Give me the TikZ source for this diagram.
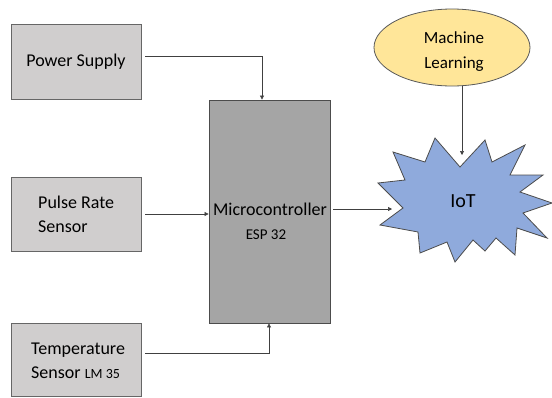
\documentclass[tikz,border=0pt]{standalone}
\usepackage{fontspec}
\setmainfont{Carlito}
\usetikzlibrary{arrows.meta,shapes.geometric}
\begin{document}
\begin{tikzpicture}[x=1pt,y=-1pt,
  inbox/.style={draw=black!60,line width=0.8pt,fill=boxgray},
  flow/.style={draw=black!75,line width=0.6pt,-{Triangle[length=4pt,width=4pt]}},
  lbl/.style={inner sep=0pt,font=\fontsize{18}{24}\selectfont}]
\definecolor{boxgray}{HTML}{D0CECE}
\definecolor{mcugray}{HTML}{A5A5A5}
\definecolor{mlgold}{HTML}{FFE699}
\definecolor{iotblue}{HTML}{8FAADC}
\useasboundingbox (0,0) rectangle (552,397);

% input blocks
\node[inbox,minimum width=130pt,minimum height=75pt] (ps) at (76,61.5) {};
\node[lbl] at (ps.center) {Power Supply};
\node[inbox,minimum width=130pt,minimum height=74pt] (pr) at (76,214) {};
\node[lbl,align=left,anchor=west] at (38,214) {Pulse Rate\\Sensor};
\node[inbox,minimum width=130pt,minimum height=73pt] (ts) at (76,359.5) {};
\node[lbl,align=left,anchor=west] at (31,361) {Temperature\\Sensor \fontsize{14}{16}\selectfont LM 35};

% microcontroller
\node[draw=black!70,line width=0.8pt,fill=mcugray,minimum width=121pt,minimum height=223pt] (mcu) at (269.5,211.5) {};
\node[lbl] (mcut) at (270,209) {Microcontroller};
\node[lbl,font=\fontsize{15}{18}\selectfont] at (266,235) {ESP 32};

% machine learning
\node[ellipse,draw=black!65,line width=0.8pt,fill=mlgold,minimum width=156pt,minimum height=77pt,inner sep=0pt] (ml) at (452,47.5) {};
\node[lbl,align=center,font=\fontsize{17}{25}\selectfont] at (454,51.5) {Machine\\Learning};

% IoT burst
\filldraw[draw=black!70,line width=0.8pt,fill=iotblue]
  (435,138) -- (460,167) -- (485,140) -- (492,162) -- (525,145) -- (510,175)
  -- (543,175) -- (520,192) -- (552,203) -- (523,213) -- (547,238) -- (517,228)
  -- (515,255) -- (496,238) -- (485,251) -- (473,240) -- (455,262) -- (447,242)
  -- (420,253) -- (418,232) -- (380,225) -- (403,208) -- (378,183) -- (405,180)
  -- (393,152) -- (425,162) -- cycle;
\node[lbl,font=\fontsize{20}{24}\selectfont] (iot) at (463,201) {IoT};
\coordinate (iotl) at (392,209);
\coordinate (iott) at (462,155);

% connections
\draw[flow] (ps.east |- 0,56) ++(4,0) -| ([xshift=-7.5pt]mcu.north);
\draw[flow] ([xshift=4pt]pr.east) -- (mcu.west |- pr.east);
\draw[flow] ([xshift=4pt,yshift=6pt]ts.east) -| ([xshift=-0.5pt]mcu.south);
\draw[flow] ([xshift=3pt]mcu.east |- 0,209) -- (iotl);
\draw[flow] (ml.south -| iott) -- (iott);
\end{tikzpicture}
\end{document}
